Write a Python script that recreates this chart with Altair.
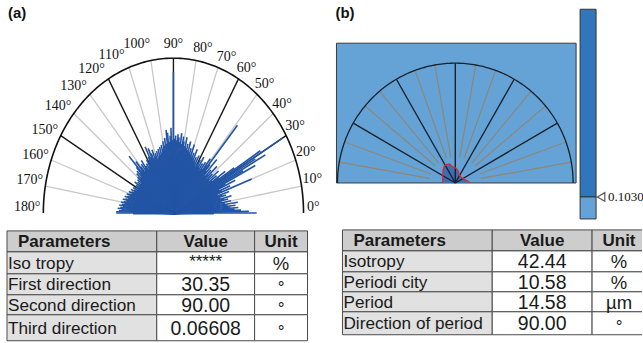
import altair as alt
import numpy as np
import pandas as pd

# ---------------- data ----------------
hist_deg = list(range(0, 181))
hist_r = [
    0.64, 0.58, 0.52, 0.47, 0.50, 0.44, 0.48, 0.42, 0.50, 0.40,
    0.45, 0.38, 0.43, 0.40, 0.46, 0.37, 0.42, 0.39, 0.45, 0.36,
    0.64, 0.40, 0.47, 0.38, 0.52, 0.44, 0.70, 0.60, 0.80, 0.72,
    0.97, 0.78, 0.55, 0.42, 0.48, 0.36, 0.41, 0.34, 0.44, 0.35,
    0.39, 0.33, 0.45, 0.36, 0.40, 0.34, 0.48, 0.37, 0.42, 0.75,
    0.40, 0.45, 0.36, 0.41, 0.34, 0.39, 0.35, 0.43, 0.36, 0.40,
    0.37, 0.34, 0.42, 0.36, 0.40, 0.37, 0.45, 0.38, 0.42, 0.39,
    0.47, 0.40, 0.44, 0.41, 0.48, 0.42, 0.46, 0.43, 0.50, 0.44,
    0.47, 0.50, 0.45, 0.52, 0.46, 0.49, 0.51, 0.47, 0.50, 0.48,
    0.91, 0.47, 0.55, 0.50, 0.46, 0.52, 0.54, 0.45, 0.49, 0.44,
    0.47, 0.42, 0.45, 0.40, 0.44, 0.39, 0.43, 0.38, 0.42, 0.37,
    0.41, 0.39, 0.44, 0.38, 0.42, 0.46, 0.40, 0.48, 0.41, 0.39,
    0.36, 0.40, 0.35, 0.38, 0.34, 0.37, 0.42, 0.36, 0.40, 0.35,
    0.39, 0.44, 0.37, 0.50, 0.41, 0.36, 0.39, 0.34, 0.38, 0.33,
    0.36, 0.32, 0.35, 0.31, 0.34, 0.32, 0.36, 0.31, 0.34, 0.30,
    0.33, 0.31, 0.35, 0.32, 0.34, 0.36, 0.33, 0.35, 0.37, 0.34,
    0.36, 0.38, 0.35, 0.37, 0.39, 0.36, 0.38, 0.40, 0.37, 0.39,
    0.41, 0.38, 0.40, 0.42, 0.39, 0.41, 0.43, 0.40, 0.42, 0.44,
    0.44,
]
label_deg = list(range(0, 181, 10))

contour_deg = [180, 176.8, 133.9, 123.2, 116.4, 106.9, 103.3, 96.1, 86.3,
               77.4, 63.1, 44.6, 22.0, 9.1, 2.8, 0]
contour_r = [0.108, 0.108, 0.150, 0.170, 0.171, 0.165, 0.148, 0.132, 0.123,
             0.105, 0.075, 0.068, 0.082, 0.105, 0.121, 0.121]
cbar_label = "0.1030"

headers = ["Parameters", "Value", "Unit"]
ta_params = ["Iso tropy", "First direction", "Second direction", "Third direction"]
ta_values = ["*****", "30.35", "90.00", "0.06608"]
ta_units = ["%", "°", "°", "°"]
tb_params = ["Isotropy", "Periodi city", "Period", "Direction of period"]
tb_values = ["42.44", "10.58", "14.58", "90.00"]
tb_units = ["%", "%", "µm", "°"]

# ---------------- layout ----------------
WA, WB, HT, HB = 322, 321, 222, 121
SERIF = "Liberation Serif"
SANS = "Liberation Sans"
# angular nudge of each tick label (layout only), same order as label_deg
label_nudge = [2, 1.5, 1, 1, 0, 0, -1, -2, -2, 0, 4.5, 5, 4, 3, 2, 1.5, 0.5, -1, -2]


def pol(deg, r):
    t = np.radians(np.asarray(deg, dtype=float))
    r = np.asarray(r, dtype=float)
    return r * np.cos(t), r * np.sin(t)


def enc(xdom, ydom, xf="x", yf="y"):
    return dict(
        x=alt.X(f"{xf}:Q", scale=alt.Scale(domain=xdom, nice=False, zero=False), axis=None),
        y=alt.Y(f"{yf}:Q", scale=alt.Scale(domain=ydom, nice=False, zero=False), axis=None),
    )


def spokes(degs, r0, r1):
    x0, y0 = pol(degs, [r0] * len(degs))
    x1, y1 = pol(degs, [r1] * len(degs))
    return pd.DataFrame({"x": x0, "y": y0, "x2": x1, "y2": y1})


def arc_df():
    a = np.arange(0, 181, 1)
    x, y = pol(a, np.ones_like(a, dtype=float))
    return pd.DataFrame({"x": x, "y": y, "o": a})


# ---------- panel (a) ----------
CXA, CYA, RXA, RYA = 173.7, 213.0, 130.3, 155.0
xdA = [-CXA / RXA, (WA - CXA) / RXA]
ydA = [-(HT - CYA) / RYA, CYA / RYA]
eA = enc(xdA, ydA)

gray_deg = [d for d in range(10, 180, 10) if d % 30]
black_deg = [30, 60, 90, 120, 150]


def rule_layer(df, xd, yd, color, w, cap="butt"):
    e = enc(xd, yd)
    return alt.Chart(df).mark_rule(color=color, strokeWidth=w, strokeCap=cap).encode(
        x=e["x"], y=e["y"], x2="x2:Q", y2="y2:Q")


hx, hy = pol(hist_deg, hist_r)
hist_df = pd.DataFrame({"x": np.zeros(len(hx)), "y": np.zeros(len(hy)), "x2": hx, "y2": hy})
core_r = np.minimum(np.asarray(hist_r), 0.31)
kx, ky = pol(hist_deg, core_r)
core_df = pd.DataFrame({"x": np.zeros(len(kx)), "y": np.zeros(len(ky)), "x2": kx, "y2": ky})

lab_df = pd.DataFrame({"deg": label_deg})
lab_df["t"] = [f"{d}°" for d in label_deg]
lab_r = [{1: 1.075, 2: 1.09, 3: 1.125}[len(str(d))] for d in label_deg]
lab_df["x"], lab_df["y"] = pol(np.asarray(label_deg) + np.asarray(label_nudge), lab_r)

panel_a = alt.layer(
    rule_layer(spokes(gray_deg, 0, 1), xdA, ydA, "#c8c8c8", 1.3),
    rule_layer(spokes(black_deg, 0, 1), xdA, ydA, "#1a1a1a", 1.4),
    rule_layer(core_df, xdA, ydA, "#2355a5", 3.0),
    rule_layer(hist_df, xdA, ydA, "#2355a5", 1.6),
    alt.Chart(arc_df()).mark_line(color="#111", strokeWidth=1.6).encode(
        x=eA["x"], y=eA["y"], order="o:Q"),
    alt.Chart(lab_df).mark_text(align="center", baseline="middle", font=SERIF,
                                fontSize=14, color="#111").encode(
        x=eA["x"], y=eA["y"], text="t:N"),
    alt.Chart(pd.DataFrame({"t": ["(a)"]})).mark_text(
        align="left", baseline="middle", font=SANS, fontSize=15, fontWeight="bold",
        color="#111").encode(x=alt.value(8), y=alt.value(13), text="t:N"),
).properties(width=WA, height=HT)

# ---------- panel (b) ----------
CXB, CYB, RXB, RYB = 133.0, 183.0, 118.0, 120.0
xdB = [-CXB / RXB, (WB - CXB) / RXB]
ydB = [-(HT - CYB) / RYB, CYB / RYB]
eB = enc(xdB, ydB)


def ux(px):
    return (px - CXB) / RXB


def uy(py):
    return (CYB - py) / RYB


def rect_layer(x0, x1, y0, y1, fill, stroke=None, sw=0):
    df = pd.DataFrame({"x": [ux(x0)], "x2": [ux(x1)], "y": [uy(y0)], "y2": [uy(y1)]})
    kw = dict(fill=fill)
    if stroke:
        kw.update(stroke=stroke, strokeWidth=sw)
    return alt.Chart(df).mark_rect(**kw).encode(x=eB["x"], y=eB["y"], x2="x2:Q", y2="y2:Q")


cx_, cy_ = pol(contour_deg, contour_r)
cont_df = pd.DataFrame({"x": cx_, "y": cy_, "y0": np.zeros(len(cx_)), "o": range(len(cx_))})

panel_b = alt.layer(
    rect_layer(14, 254, 43, 183, "#65a3d6", "#3a3a3a", 1),
    rect_layer(258, 274, 9, 197, "#3176bc", "#333", 1),
    rect_layer(258, 274, 197, 219, "#65a3d6", "#333", 1),
    alt.Chart(cont_df).mark_area(color="#3a6fb4").encode(
        x=eB["x"], y=eB["y"], y2="y0:Q"),
    rule_layer(spokes(gray_deg, 0.22, 1), xdB, ydB, "#8b877a", 1.2),
    rule_layer(spokes(black_deg, 0, 1), xdB, ydB, "#17212c", 1.4),
    alt.Chart(arc_df()).mark_line(color="#17212c", strokeWidth=1.3).encode(
        x=eB["x"], y=eB["y"], order="o:Q"),
    alt.Chart(cont_df).mark_line(color="#e3262c", strokeWidth=1.3).encode(
        x=eB["x"], y=eB["y"], order="o:Q"),
    alt.Chart(pd.DataFrame({"x": [ux(279)], "y": [uy(197)]})).mark_point(
        shape="triangle-left", filled=False, color="#111", size=75, strokeWidth=1.2).encode(
        x=eB["x"], y=eB["y"]),
    alt.Chart(pd.DataFrame({"x": [ux(286)], "y": [uy(197)], "t": [cbar_label]})).mark_text(
        align="left", baseline="middle", font=SERIF, fontSize=13, color="#111", clip=True).encode(
        x=eB["x"], y=eB["y"], text="t:N"),
    alt.Chart(pd.DataFrame({"t": ["(b)"]})).mark_text(
        align="left", baseline="middle", font=SANS, fontSize=15, fontWeight="bold",
        color="#111").encode(x=alt.value(13), y=alt.value(13), text="t:N"),
).properties(width=WB, height=HT)


# ---------- tables ----------
def table(width, cols, rows, params, values, units, clip_right=False):
    xs = alt.Scale(domain=[0, width], nice=False, zero=False)
    ys = alt.Scale(domain=[HB, 0], nice=False, zero=False)
    X = lambda f: alt.X(f"{f}:Q", scale=xs, axis=None)
    Y = lambda f: alt.Y(f"{f}:Q", scale=ys, axis=None)
    cells = []
    for r in range(len(rows) - 1):
        for c in range(3):
            if r == 0:
                fill = "#cdcdcd"
            elif c == 0:
                fill = "#e1e1e1"
            else:
                fill = "#ffffff"
            cells.append({"x": cols[c], "x2": cols[c + 1], "y": rows[r], "y2": rows[r + 1], "f": fill})
    cdf = pd.DataFrame(cells)
    rects = alt.Chart(cdf).mark_rect(stroke="#4a4a4a", strokeWidth=1, clip=True).encode(
        x=X("x"), x2="x2:Q", y=Y("y"), y2="y2:Q", fill=alt.Fill("f:N", scale=None))

    mid = lambda r: (rows[r] + rows[r + 1]) / 2 + 1
    unit_x = cols[2] + 27 if clip_right else (cols[2] + cols[3]) / 2
    hdr = pd.DataFrame({
        "x": [cols[0] + 11, (cols[1] + cols[2]) / 2, unit_x],
        "y": [mid(0)] * 3, "t": headers, "a": ["l", "c", "c"]})
    body_p = pd.DataFrame({"x": [cols[0] + 1] * 4, "y": [mid(i) for i in range(1, 5)], "t": params})
    body_v = pd.DataFrame({"x": [(cols[1] + cols[2]) / 2] * 4, "y": [mid(i) for i in range(1, 5)],
                           "t": values})
    body_u = pd.DataFrame({"x": [unit_x] * 4, "y": [mid(i) for i in range(1, 5)], "t": units})

    def txt(df, align, size, weight="normal"):
        return alt.Chart(df).mark_text(align=align, baseline="middle", font=SANS, fontSize=size,
                                       fontWeight=weight, color="#1a1a1a").encode(
            x=X("x"), y=Y("y"), text="t:N")

    layers = [rects,
              txt(hdr[hdr.a == "l"], "left", 17, "bold"),
              txt(hdr[hdr.a == "c"], "center", 17, "bold"),
              txt(body_p, "left", 17.2)]
    stars = body_v[body_v.t.str.startswith("*")].copy()
    stars["y"] = stars["y"] - 2
    layers.append(txt(body_v[~body_v.t.str.startswith("*")], "center", 19.5))
    if len(stars):
        layers.append(txt(stars, "center", 17))
    deg = body_u[body_u.t == "°"].copy()
    layers.append(txt(body_u[body_u.t != "°"], "center", 18.5))
    if len(deg):
        deg["y"] = deg["y"] + 3
        layers.append(txt(deg, "center", 17))
    return alt.layer(*layers).properties(width=width, height=HB)


table_a = table(WA, [7, 157, 255, 308], [9, 30, 52, 73, 93, 119],
                ta_params, ta_values, ta_units)
table_b = table(WB, [21, 171, 271, 330], [8, 29, 50, 70, 90, 113],
                tb_params, tb_values, tb_units, clip_right=True)

top = alt.hconcat(panel_a, panel_b, spacing=0)
bottom = alt.hconcat(table_a, table_b, spacing=0)
chart = alt.vconcat(top, bottom, spacing=0).properties(
    padding=0, background="white"
).configure_view(strokeWidth=0, stroke=None)

chart.save("out.html", embed_options={"renderer": "svg", "actions": False})
